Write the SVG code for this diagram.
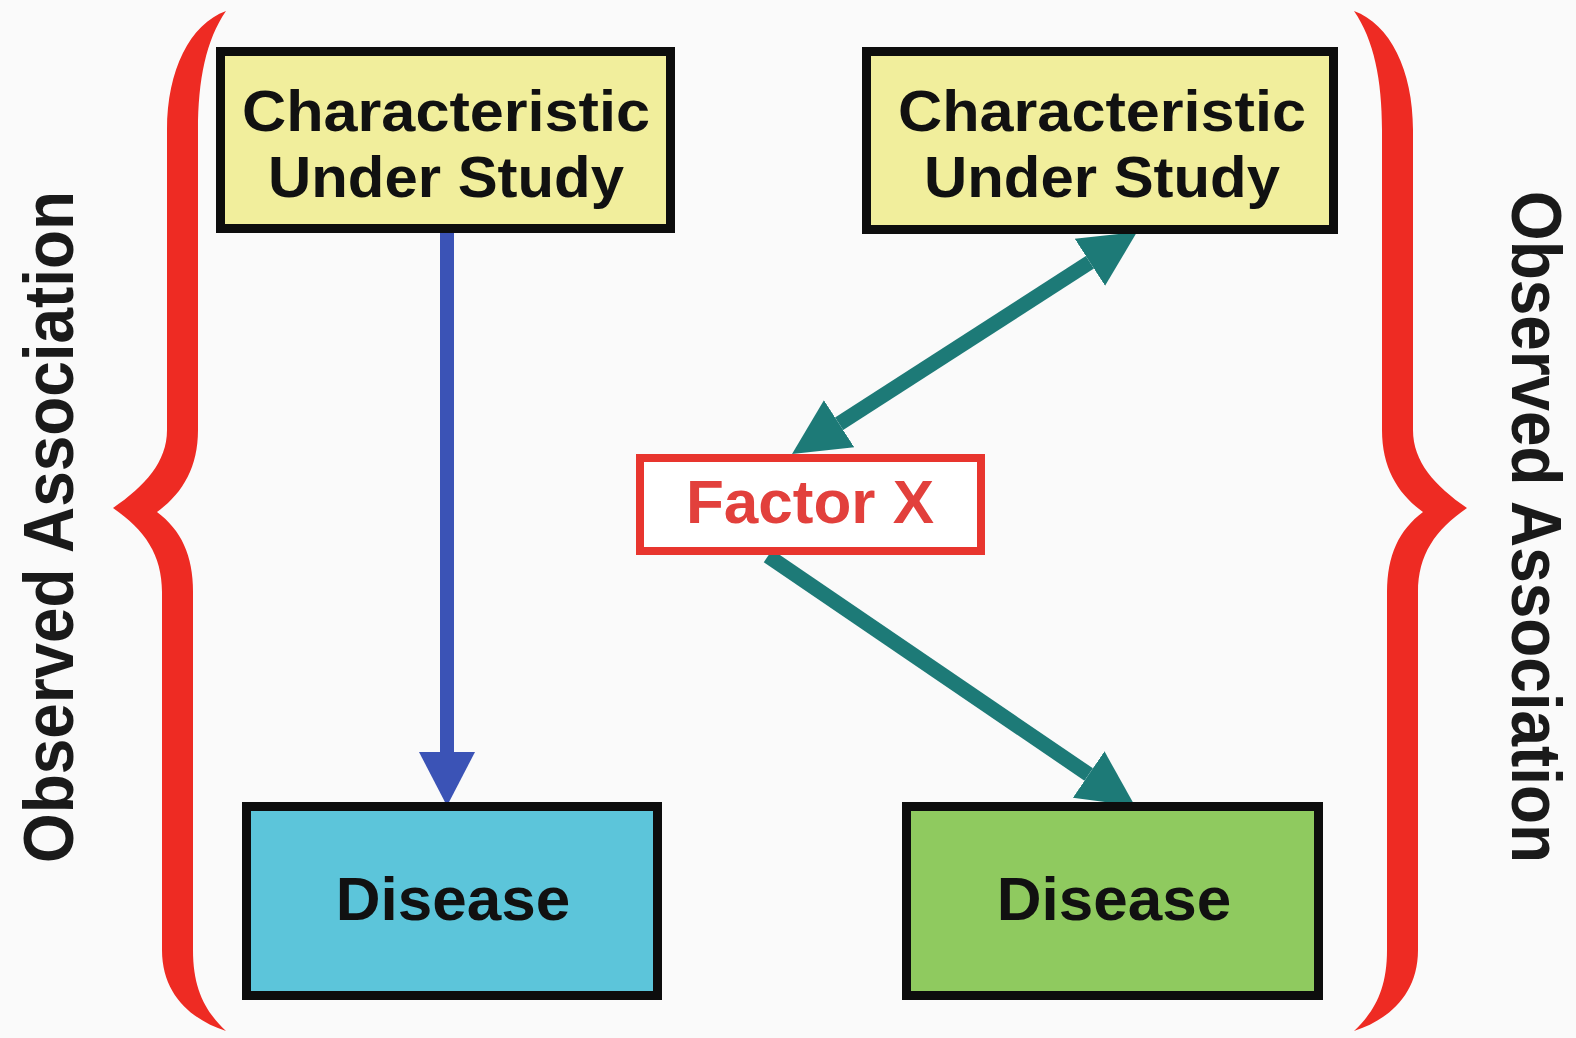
<svg xmlns="http://www.w3.org/2000/svg" width="1576" height="1038" viewBox="0 0 1576 1038">
  <style>
    .box { stroke: #0d0d0d; stroke-width: 9; }
    .label { font-family: "Liberation Sans", Arial, sans-serif; font-weight: bold; font-size: 62px; fill: #111111; text-anchor: middle; }
    .label2 { font-family: "Liberation Sans", Arial, sans-serif; font-weight: bold; font-size: 58px; fill: #111111; text-anchor: middle; }
    .side { font-family: "Liberation Sans", Arial, sans-serif; font-weight: bold; font-size: 70px; fill: #1a1a1a; text-anchor: middle; }
    .brace { fill: #ee2b23; }
    .teal { stroke: #1d7a77; stroke-width: 15; fill: none; }
    .blue { stroke: #3b53b6; stroke-width: 14; fill: none; }
  </style>
  <defs>
    <marker id="head-teal" markerUnits="userSpaceOnUse" markerWidth="60" markerHeight="60" viewBox="0 -30 60 60" refX="0" refY="0" orient="auto-start-reverse">
      <path d="M0,-28 L56,0 L0,28 Z" fill="#1d7a77"/>
    </marker>
    <marker id="head-blue" markerUnits="userSpaceOnUse" markerWidth="60" markerHeight="60" viewBox="0 -30 60 60" refX="0" refY="0" orient="auto">
      <path d="M0,-28 L54,0 L0,28 Z" fill="#3b53b6"/>
    </marker>
    <!-- curly brace, opening to the right, tip pointing left -->
    <path id="brace-shape" d="M226,11 C190,24 167,70 167,130 L167,430 C167,462 145,486 113,508 C145,530 162,555 162,592 L162,950 C162,995 192,1020 226,1031 C206,1012 193,990 193,950 L193,592 C193,555 181,530 157,512 C182,494 198,468 198,430 L198,130 C198,80 206,40 226,11 Z"/>
  </defs>

  <rect x="0" y="0" width="1576" height="1038" fill="#fafafa"/>

  <!-- braces -->
  <g id="brace-left" class="brace">
    <use href="#brace-shape"/>
  </g>
  <g id="brace-right" class="brace">
    <use href="#brace-shape" transform="translate(1580,0) scale(-1,1)"/>
  </g>

  <!-- side labels -->
  <g id="label-left">
    <text class="side" transform="translate(73,527) rotate(-90)" x="0" y="0" textLength="672" lengthAdjust="spacingAndGlyphs">Observed Association</text>
  </g>
  <g id="label-right">
    <text class="side" transform="translate(1512,527) rotate(90)" x="0" y="0" textLength="672" lengthAdjust="spacingAndGlyphs">Observed Association</text>
  </g>

  <!-- connectors -->
  <g id="connectors">
    <line class="blue" x1="447" y1="232" x2="447" y2="752" marker-end="url(#head-blue)"/>
    <line class="teal" x1="839.1" y1="423.7" x2="1089.9" y2="262.3" marker-start="url(#head-teal)" marker-end="url(#head-teal)"/>
    <line class="teal" x1="768" y1="556" x2="1088.7" y2="774.5" marker-end="url(#head-teal)"/>
  </g>

  <!-- nodes -->
  <g id="char-left">
    <rect class="box" x="220.5" y="51.5" width="450" height="177" fill="#f1ee9c"/>
    <text class="label2" x="446" y="131" textLength="408" lengthAdjust="spacingAndGlyphs">Characteristic</text>
    <text class="label2" x="446" y="197" textLength="356" lengthAdjust="spacingAndGlyphs">Under Study</text>
  </g>
  <g id="char-right">
    <rect class="box" x="866.5" y="51.5" width="467" height="178" fill="#f1ee9c"/>
    <text class="label2" x="1102" y="131" textLength="408" lengthAdjust="spacingAndGlyphs">Characteristic</text>
    <text class="label2" x="1102" y="197" textLength="356" lengthAdjust="spacingAndGlyphs">Under Study</text>
  </g>
  <g id="factor-x">
    <rect x="640" y="458" width="341" height="93" fill="#ffffff" stroke="#e8352e" stroke-width="8"/>
    <text class="label" x="810" y="523" style="fill:#e2403c">Factor X</text>
  </g>
  <g id="disease-left">
    <rect class="box" x="246.5" y="806.5" width="411" height="189" fill="#5cc5da"/>
    <text class="label" x="453" y="920">Disease</text>
  </g>
  <g id="disease-right">
    <rect class="box" x="906.5" y="806.5" width="412" height="189" fill="#8fca5f"/>
    <text class="label" x="1114" y="920">Disease</text>
  </g>
</svg>
